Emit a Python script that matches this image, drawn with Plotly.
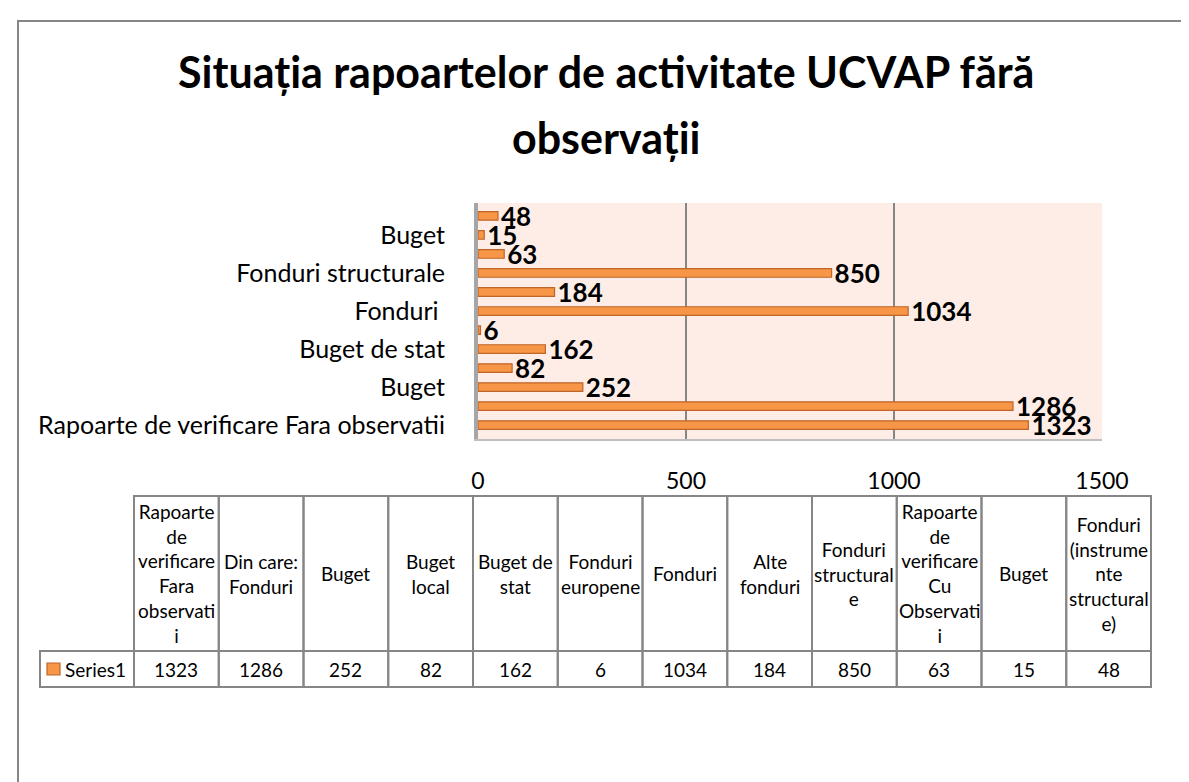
import plotly.graph_objects as go

# chart data
categories = ["Rapoarte de verificare Fara observatii", "Din care: Fonduri", "Buget", "Buget local",
              "Buget de stat", "Fonduri europene", "Fonduri ", "Alte fonduri", "Fonduri structurale",
              "Rapoarte de verificare Cu Observatii", "Buget", "Fonduri (instrumente structurale)"]
values = [1323, 1286, 252, 82, 162, 6, 1034, 184, 850, 63, 15, 48]
table_headers = ["Rapoarte<br>de<br>verificare<br>Fara<br>observati<br>i", "Din care:<br>Fonduri", "Buget",
                 "Buget<br>local", "Buget de<br>stat", "Fonduri<br>europene", "Fonduri", "Alte<br>fonduri",
                 "Fonduri<br>structural<br>e", "Rapoarte<br>de<br>verificare<br>Cu<br>Observati<br>i", "Buget",
                 "Fonduri<br>(instrume<br>nte<br>structural<br>e)"]
series_name = "Series1"
x_ticks = [0, 500, 1000, 1500]
title_lines = ["Situația rapoartelor de activitate UCVAP fără", "observații"]

ORANGE = "#f79646"
EDGE = "#c0652a"
GREY = "#868686"
FONT = "Lato"
TBL_SIZE = 19

# page geometry (pixels)
W, H = 1189, 782
L, R, T, B = 470, 95, 195, 351
PW = W - L - R
PH = H - T - B


def px(x):
    return (x - L) / PW


def py(y):
    return (H - B - y) / PH


positions = list(range(len(values)))

fig = go.Figure(go.Bar(
    x=values, y=positions, orientation="h", width=0.45,
    marker=dict(color=ORANGE, line=dict(color=EDGE, width=1.2)),
    text=values, textposition="outside", constraintext="none", cliponaxis=False,
    textfont=dict(family=FONT, size=26, color="black", weight="bold"),
    name=series_name, showlegend=False,
))

shapes = []
annotations = []

# outer frame
shapes.append(dict(type="rect", xref="paper", yref="paper", x0=px(10), y0=py(13), x1=px(1220), y1=py(820),
                   line=dict(color=GREY, width=2), fillcolor="rgba(0,0,0,0)", layer="below"))

# title
for i, line in enumerate(title_lines):
    annotations.append(dict(text=line, xref="paper", yref="paper", x=px(598), y=py(64 + 65 * i),
                            xanchor="center", yanchor="middle", showarrow=False,
                            font=dict(family=FONT, size=43, color="black", weight="bold")))

# data table below the chart
tbl_left, first_right, col_w = 32, 126, 84.75
head_top, head_bot, row_bot = 488, 643, 679
for i, head in enumerate(table_headers):
    x0 = first_right + i * col_w
    x1 = x0 + col_w
    shapes.append(dict(type="rect", xref="paper", yref="paper", x0=px(x0), x1=px(x1), y0=py(head_top),
                       y1=py(head_bot), line=dict(color=GREY, width=2)))
    shapes.append(dict(type="rect", xref="paper", yref="paper", x0=px(x0), x1=px(x1), y0=py(head_bot),
                       y1=py(row_bot), line=dict(color=GREY, width=2)))
    annotations.append(dict(text=head, xref="paper", yref="paper", x=px((x0 + x1) / 2),
                            y=py((head_top + head_bot) / 2), xanchor="center", yanchor="middle",
                            showarrow=False, font=dict(family=FONT, size=TBL_SIZE, color="black")))
    annotations.append(dict(text=str(values[i]), xref="paper", yref="paper", x=px((x0 + x1) / 2),
                            y=py((head_bot + row_bot) / 2), xanchor="center", yanchor="middle",
                            showarrow=False, font=dict(family=FONT, size=TBL_SIZE, color="black")))

shapes.append(dict(type="rect", xref="paper", yref="paper", x0=px(tbl_left), x1=px(first_right),
                   y0=py(head_bot), y1=py(row_bot), line=dict(color=GREY, width=2)))
shapes.append(dict(type="rect", xref="paper", yref="paper", x0=px(39), x1=px(52),
                   y0=py(655), y1=py(667), fillcolor=ORANGE, line=dict(color=EDGE, width=1.2)))
annotations.append(dict(text=series_name, xref="paper", yref="paper", x=px(55), y=py((head_bot + row_bot) / 2),
                        xanchor="left", yanchor="middle", showarrow=False,
                        font=dict(family=FONT, size=TBL_SIZE, color="black")))

fig.update_layout(
    width=W, height=H,
    margin=dict(l=L, r=R, t=T, b=B),
    paper_bgcolor="white",
    plot_bgcolor="#fdede6",
    font=dict(family=FONT, color="black"),
    shapes=shapes,
    annotations=annotations,
)

fig.update_xaxes(range=[0, 1500], tickvals=x_ticks, showgrid=True, gridcolor=GREY, gridwidth=1.5,
                 zeroline=False, showline=True, linecolor="#bfbfbf", linewidth=2,
                 ticks="", ticklabelstandoff=20, tickfont=dict(family=FONT, size=23, color="black"))
fig.update_yaxes(range=[-0.73, 11.68], tickvals=positions[::2], ticktext=categories[::2],
                 showgrid=False, zeroline=False, showline=True, linecolor="#a6a6a6", linewidth=4,
                 ticks="", ticklabelstandoff=24, tickfont=dict(family=FONT, size=25, color="black"))

fig.write_html("out.html")
